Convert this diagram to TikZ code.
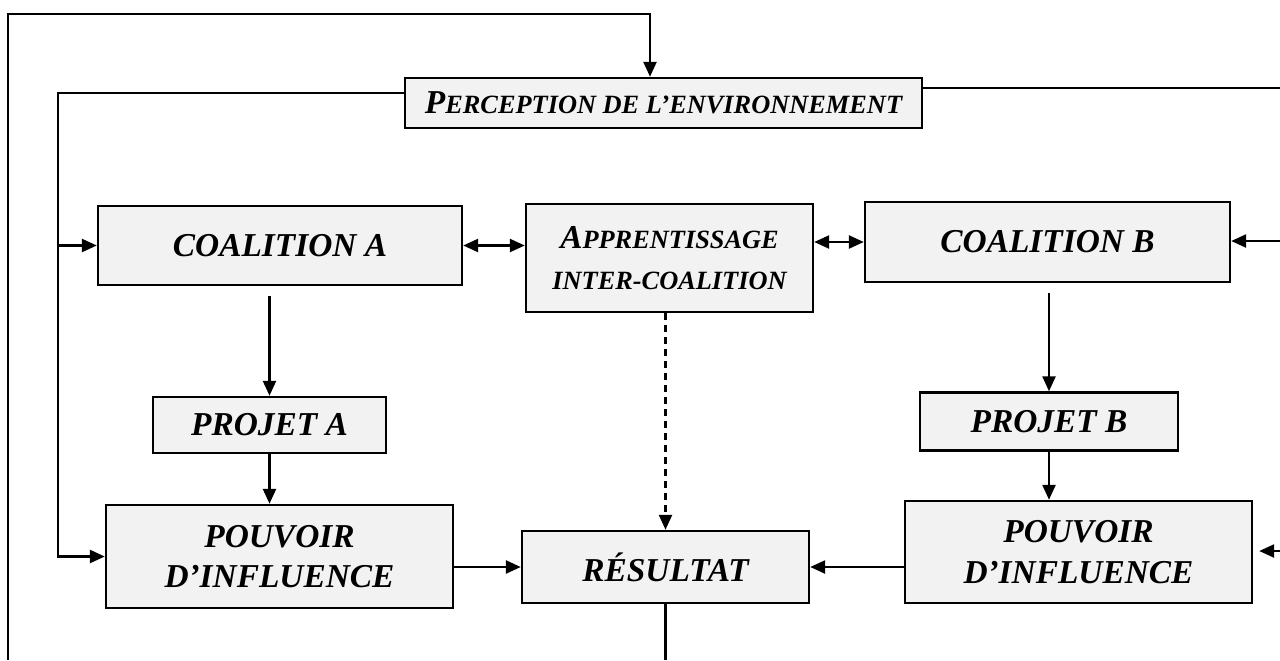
\documentclass[tikz,border=0pt]{standalone}
\usepackage{fontspec}
\setmainfont{Liberation Serif}
\usetikzlibrary{positioning,arrows.meta}
\newcommand{\smcp}[1]{{\fontsize{15}{18}\selectfont #1}}
\tikzset{
	blk/.style={draw, line width=1.4pt, fill=gray!10, inner sep=0pt, align=center,
		font=\fontsize{19}{23}\selectfont\bfseries\itshape},
	ln/.style={line width=1.4pt},
	arr/.style={line width=1.4pt, -{Triangle[length=0.3cm,width=0.26cm]}},
	darr/.style={line width=1.4pt, {Triangle[length=0.3cm,width=0.26cm]}-{Triangle[length=0.3cm,width=0.26cm]}},
	dashline/.style={dash pattern=on 0.14cm off 0.1cm},
}
\begin{document}
\begin{tikzpicture}[x=0.02cm,y=-0.02cm]
	\useasboundingbox (0,0) rectangle (1280,660);
	%% boxes
	\node[blk, minimum width=10.34cm, minimum height=1.0cm] (percep) at (663.5,103) {P\smcp{ERCEPTION DE L’ENVIRONNEMENT}};
	\node[blk, minimum width=7.28cm, minimum height=1.58cm] (coalA) at (280,245.5) {COALITION A};
	\node[blk, minimum width=5.74cm, minimum height=2.16cm] (appr) at (669.5,258) {A\smcp{PPRENTISSAGE}\\\smcp{INTER-COALITION}};
	\node[blk, minimum width=7.3cm, minimum height=1.6cm] (coalB) at (1047.5,242) {COALITION B};
	\node[blk, minimum width=4.66cm, minimum height=1.12cm] (projA) at (269.5,425) {PROJET A};
	\node[blk, minimum width=5.16cm, minimum height=1.16cm] (projB) at (1049,421.5) {PROJET B};
	\node[blk, minimum width=6.94cm, minimum height=2.06cm] (pouvA) at (279.5,556.5) {POUVOIR\\D’INFLUENCE};
	\node[blk, minimum width=5.74cm, minimum height=1.44cm] (res) at (665.5,567) {RÉSULTAT};
	\node[blk, minimum width=6.94cm, minimum height=2.04cm] (pouvB) at (1078.5,552) {POUVOIR\\D’INFLUENCE};
	%% free ends at the border
	\coordinate (botL) at (8,660);
	\coordinate (topA) at (650,14);
	\coordinate (inL) at (58,93);
	\coordinate (rT) at (1280,88);
	\coordinate (rC) at (1280,241);
	\coordinate (rP) at (1280,551);
	%% outer loops
	\draw[arr] (botL) |- (topA) -- (topA |- percep.north);
	\draw[arr] (percep.west |- inL) -| (inL |- pouvA.west) -- (pouvA.west);
	\draw[arr] (inL |- coalA.west) -- (coalA.west);
	\draw[ln] (percep.east |- rT) -- (rT);
	\draw[arr] (rC) -- (coalB.east |- rC);
	\draw[arr, shorten >=0.12cm] (rP) -- (pouvB.east |- rP);
	%% coalitions
	\draw[darr] (coalA.east) -- (appr.west |- coalA.east);
	\draw[darr] (appr.east |- coalB.west) -- (coalB.west);
	\draw[arr, shorten <=0.2cm] (coalA.south -| projA.north) -- (projA.north);
	\draw[arr] (projA.south) -- (projA.south |- pouvA.north);
	\draw[arr, shorten <=0.2cm] (coalB.south -| projB.north) -- (projB.north);
	\draw[arr] (projB.south) -- (projB.south |- pouvB.north);
	%% result
	\draw[arr] (pouvA.east |- res.west) -- (res.west);
	\draw[arr] (pouvB.west |- res.east) -- (res.east);
	\draw[arr, dashline] (res.north |- appr.south) -- (res.north);
	\draw[ln] (res.south) -- (res.south |- botL);
\end{tikzpicture}
\end{document}
